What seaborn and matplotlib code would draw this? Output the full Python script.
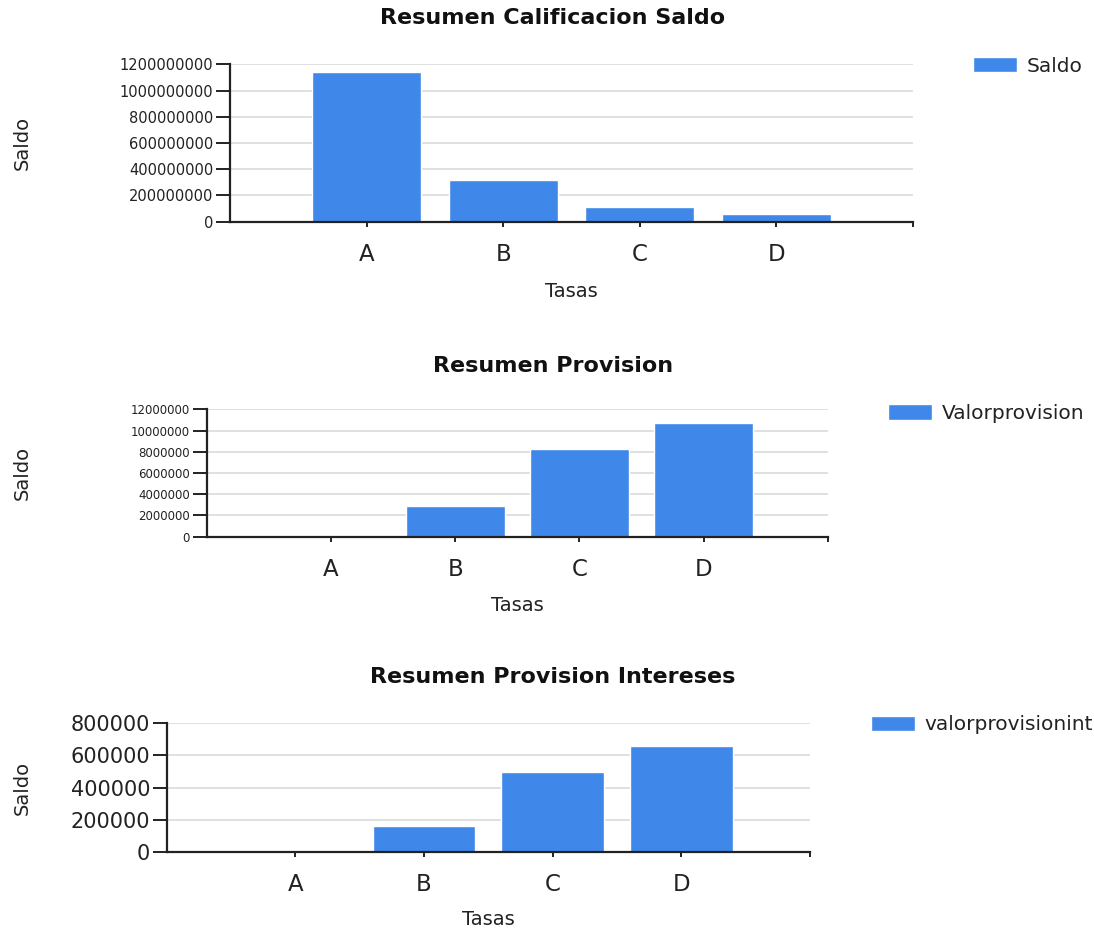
import matplotlib
matplotlib.use("Agg")
import matplotlib.pyplot as plt
import seaborn as sns
import pandas as pd

categories = ["A", "B", "C", "D"]
saldo = [1140000000, 318000000, 110000000, 61000000]
valorprovision = [0, 2860000, 8260000, 10710000]
valorprovisionint = [0, 162000, 497000, 658000]

titles = ["Resumen Calificacion Saldo", "Resumen Provision", "Resumen Provision Intereses"]
series_names = ["Saldo", "Valorprovision", "valorprovisionint"]
yticks_list = [
    [0, 200000000, 400000000, 600000000, 800000000, 1000000000, 1200000000],
    [0, 2000000, 4000000, 6000000, 8000000, 10000000, 12000000],
    [0, 200000, 400000, 600000, 800000],
]

sns.set_theme(style="white")
plt.rcParams["font.family"] = ["DejaVu Sans"]

W, H = 1094, 930
fig = plt.figure(figsize=(W / 100, H / 100), dpi=100)
BAR = "#3F88EA"
TXT = "#222222"

def fx(px):
    return px / W

def fy(py):
    return 1 - py / H

# axes boxes in pixels: left, top, right, bottom
boxes = [(230, 64.3, 913, 221.7), (206.7, 409.3, 828, 536.7), (166.7, 723.3, 810, 851.7)]
ytick_sizes = [10.5, 8.5, 15]
title_y = [18, 366, 677]
xlabel_top = [282, 596, 910]
legend_pos = [(973, 66), (888, 413.5), (871, 725)]

data = [saldo, valorprovision, valorprovisionint]

for i in range(3):
    l, t, r, b = boxes[i]
    ax = fig.add_axes([fx(l), fy(b), (r - l) / W, (b - t) / H])
    df = pd.DataFrame({"Tasas": categories, "Valor": data[i]})
    sns.barplot(data=df, x="Tasas", y="Valor", order=categories, color=BAR,
                saturation=1, width=0.8, ax=ax, label=series_names[i])
    ax.set_xlim(-1, 4)
    yt = yticks_list[i]
    ax.set_ylim(0, yt[-1])
    ax.set_yticks(yt)
    ax.set_yticklabels([str(v) for v in yt], fontsize=ytick_sizes[i], color=TXT)
    ax.set_xticks(range(len(categories)))
    ax.set_xticklabels(categories, fontsize=16.5, color=TXT)
    ax.set_xticks([4], minor=True)
    ax.yaxis.grid(True, color="#DDDDDD", linewidth=1.3)
    ax.xaxis.grid(False)
    ax.set_axisbelow(True)
    for s in ["top", "right"]:
        ax.spines[s].set_visible(False)
    for s in ["left", "bottom"]:
        ax.spines[s].set_color("#222222")
        ax.spines[s].set_linewidth(1.6)
    ax.tick_params(axis="y", which="major", left=True, length=10, width=1.4,
                   color="#222222", pad=2)
    ax.tick_params(axis="x", which="both", bottom=True, length=3.5, width=1.4,
                   color="#222222", pad=12)
    ax.set_xlabel("")
    ax.set_ylabel("")
    fig.text(fx((l + r) / 2), fy(xlabel_top[i]), "Tasas", ha="center", va="top",
             fontsize=14, color=TXT)
    fig.text(fx(22), fy((t + b) / 2), "Saldo", ha="center", va="center",
             rotation=90, fontsize=14, color=TXT)
    fig.text(fx(553), fy(title_y[i]), titles[i], ha="center", va="center",
             fontsize=16, fontweight="bold", color="#111111")
    lx, ly = legend_pos[i]
    ax.legend(loc="center left", bbox_to_anchor=(fx(lx), fy(ly)),
              bbox_transform=fig.transFigure, frameon=False, fontsize=14.5,
              handlelength=2.2, handleheight=0.8, handletextpad=0.45,
              borderpad=0, borderaxespad=0, labelcolor=TXT)

fig.savefig("out.png", dpi=100)
